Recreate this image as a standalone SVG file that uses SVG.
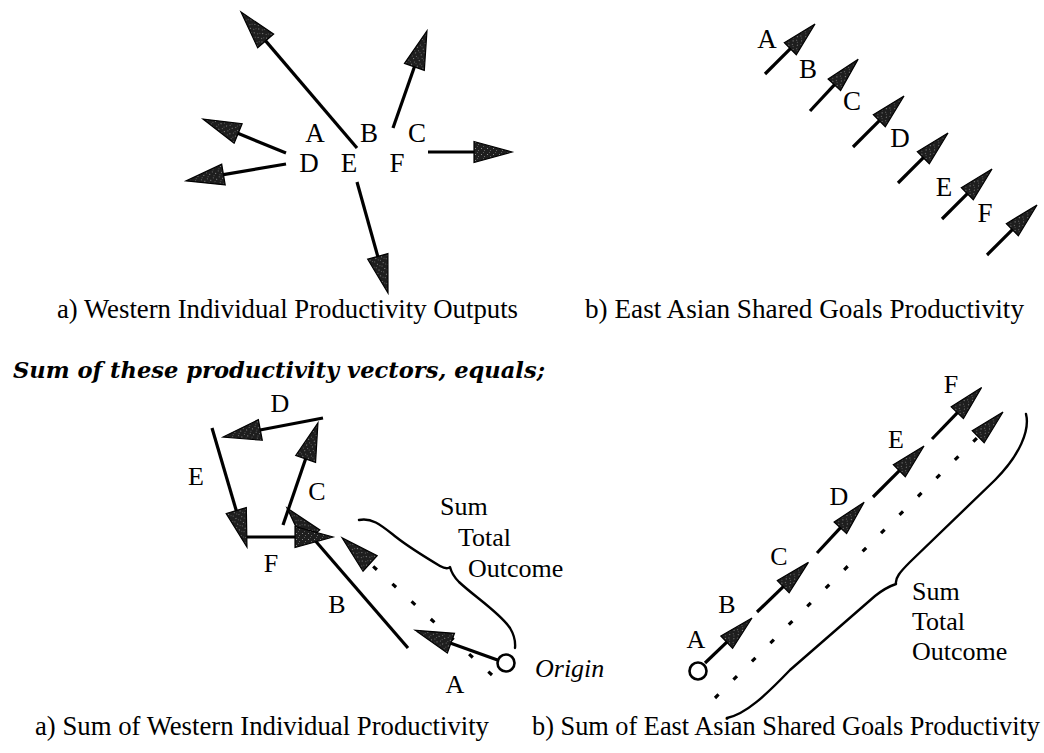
<svg xmlns="http://www.w3.org/2000/svg" width="1044" height="753" viewBox="0 0 1044 753">
<style>
.ln{stroke:#000;stroke-width:3.2;fill:none;stroke-linecap:butt}
.hl{marker-end:url(#head)}
.hs{marker-end:url(#headS)}
.dot{stroke:#000;stroke-width:3.2;fill:none;stroke-dasharray:5 21}
.br{stroke:#000;stroke-width:2.4;fill:none;stroke-linecap:round;stroke-linejoin:round}
.lbl{font-family:"Liberation Serif","Times New Roman",serif;font-size:26px;fill:#000}
.lt{font-size:27px}
.c{text-anchor:middle}
.cap{font-family:"Liberation Serif","Times New Roman",serif;font-size:26.5px;fill:#000}
.hd{font-family:"DejaVu Serif","Liberation Serif",serif;font-size:22px;font-weight:bold;font-style:italic;fill:#000}
.org{font-family:"Liberation Serif","Times New Roman",serif;font-size:26px;font-style:italic;fill:#000}
.circ{fill:#fff;stroke:#000;stroke-width:2.6}
</style>
<defs>
<pattern id="speck" width="6" height="6" patternUnits="userSpaceOnUse">
<rect width="6" height="6" fill="#1e1e1e"/>
<rect x="1" y="2" width="1" height="1" fill="#8a8a8a"/>
<rect x="4" y="4" width="1" height="1" fill="#6a6a6a"/>
<rect x="3" y="0" width="1" height="1" fill="#555"/>
</pattern>
<marker id="head" markerUnits="userSpaceOnUse" orient="auto" viewBox="-2 -12 42 24" markerWidth="42" markerHeight="24" refX="3" refY="0" overflow="visible">
<path d="M0,-10.5 L38,0 L0,10.5 Z" fill="url(#speck)" stroke="#000" stroke-width="1.2"/>
</marker>
<marker id="headS" markerUnits="userSpaceOnUse" orient="auto" viewBox="-2 -10 39 20" markerWidth="39" markerHeight="20" refX="3" refY="0" overflow="visible">
<path d="M0,-8.5 L35,0 L0,8.5 Z" fill="url(#speck)" stroke="#000" stroke-width="1.2"/>
</marker>
</defs>
<rect width="1044" height="753" fill="#fff"/>

<!-- Panel a (top-left) -->
<g id="connectors-top-left">
<line class="ln hl" x1="357" y1="148" x2="263.7" y2="38.6"/>
<line class="ln hl" x1="393" y1="128" x2="415.4" y2="64"/>
<line class="ln hl" x1="286" y1="153" x2="235.4" y2="132.3"/>
<line class="ln hl" x1="286" y1="164" x2="220.5" y2="175.1"/>
<line class="ln hl" x1="428" y1="152" x2="477" y2="152"/>
<line class="ln hl" x1="357" y1="182" x2="378.6" y2="259.3"/>
</g>
<g id="tl-A"><text class="lbl lt c" x="315" y="142">A</text></g>
<g id="tl-B"><text class="lbl lt c" x="369" y="142">B</text></g>
<g id="tl-C"><text class="lbl lt c" x="417" y="142">C</text></g>
<g id="tl-D"><text class="lbl lt c" x="309" y="172">D</text></g>
<g id="tl-E"><text class="lbl lt c" x="349" y="172">E</text></g>
<g id="tl-F"><text class="lbl lt c" x="397" y="172">F</text></g>

<!-- Panel b (top-right) -->
<g id="connectors-top-right">
<line class="ln hs" x1="765" y1="74" x2="792.4" y2="46.6"/>
<line class="ln hs" x1="810" y1="111" x2="836.4" y2="82.6"/>
<line class="ln hs" x1="853" y1="147" x2="881.4" y2="118.6"/>
<line class="ln hs" x1="898" y1="183" x2="925.4" y2="155.6"/>
<line class="ln hs" x1="942" y1="219" x2="969.4" y2="191.6"/>
<line class="ln hs" x1="987" y1="255" x2="1014.4" y2="227.6"/>
</g>
<g id="tr-A"><text class="lbl lt c" x="767" y="48">A</text></g>
<g id="tr-B"><text class="lbl lt c" x="808" y="78">B</text></g>
<g id="tr-C"><text class="lbl lt c" x="852" y="110">C</text></g>
<g id="tr-D"><text class="lbl lt c" x="900" y="147">D</text></g>
<g id="tr-E"><text class="lbl lt c" x="944" y="196">E</text></g>
<g id="tr-F"><text class="lbl lt c" x="985" y="222">F</text></g>

<g id="captions-top">
<text class="cap" x="57" y="318" textLength="461" lengthAdjust="spacingAndGlyphs">a) Western Individual Productivity Outputs</text>
<text class="cap" x="585" y="318" textLength="439" lengthAdjust="spacingAndGlyphs">b) East Asian Shared Goals Productivity</text>
</g>

<g id="heading">
<text class="hd" x="13" y="378" textLength="532" lengthAdjust="spacingAndGlyphs">Sum of these productivity vectors, equals;</text>
</g>

<!-- Panel a (bottom-left) -->
<g id="connectors-bottom-left">
<line class="dot hl" x1="492" y1="675" x2="367.9" y2="561.5"/>
<line class="ln hl" x1="497.5" y1="660" x2="448.1" y2="642.2"/>
<line class="ln hl" x1="408" y1="648" x2="309.9" y2="534.5"/>
<line class="ln hl" x1="283" y1="525" x2="306.6" y2="456.1"/>
<line class="ln hl" x1="323" y1="418" x2="257.4" y2="430.5"/>
<line class="ln hl" x1="212" y1="428" x2="237.1" y2="513.4"/>
<line class="ln hl" x1="247" y1="537" x2="298" y2="537"/>
<path class="br" d="M359,520 C372,517 382,526 396,537 S430,560 440,566 Q447,570 450,567 Q452,575 459,582 C475,597 500,613 510,628 Q516,638 515,648"/>
</g>
<g id="bl-origin"><circle class="circ" cx="506" cy="663" r="8.5"/><text class="org" x="535" y="677">Origin</text></g>
<g id="bl-A"><text class="lbl c" x="455" y="693">A</text></g>
<g id="bl-B"><text class="lbl c" x="337" y="613">B</text></g>
<g id="bl-C"><text class="lbl c" x="317" y="500">C</text></g>
<g id="bl-D"><text class="lbl c" x="280" y="412">D</text></g>
<g id="bl-E"><text class="lbl c" x="196" y="485">E</text></g>
<g id="bl-F"><text class="lbl c" x="271" y="572">F</text></g>
<g id="bl-sum"><text class="lbl" x="440" y="515">Sum</text><text class="lbl" x="458" y="546">Total</text><text class="lbl" x="468" y="577">Outcome</text></g>

<!-- Panel b (bottom-right) -->
<g id="connectors-bottom-right">
<line class="dot hs" x1="715" y1="698" x2="980.3" y2="434.6"/>
<line class="ln hs" x1="705" y1="663" x2="728.9" y2="640.1"/>
<line class="ln hs" x1="757" y1="612" x2="785.4" y2="584.6"/>
<line class="ln hs" x1="817" y1="553" x2="842.4" y2="525.6"/>
<line class="ln hs" x1="873" y1="497" x2="901.4" y2="468.6"/>
<line class="ln hs" x1="932" y1="439" x2="959.4" y2="410.6"/>
<path class="br" d="M1026,414 C1030,430 1020,455 995,480 L910,562 C900,572 895,578 896,584 C890,586 885,588 875,596 L790,670 C766,695 746,714 727,718"/>
</g>
<g id="br-origin"><circle class="circ" cx="698" cy="671" r="8.5"/></g>
<g id="br-A"><text class="lbl c" x="696" y="648">A</text></g>
<g id="br-B"><text class="lbl c" x="727" y="613">B</text></g>
<g id="br-C"><text class="lbl c" x="779" y="565">C</text></g>
<g id="br-D"><text class="lbl c" x="839" y="505">D</text></g>
<g id="br-E"><text class="lbl c" x="896" y="448">E</text></g>
<g id="br-F"><text class="lbl c" x="951" y="393">F</text></g>
<g id="br-sum"><text class="lbl" x="912" y="600">Sum</text><text class="lbl" x="912" y="630">Total</text><text class="lbl" x="912" y="660">Outcome</text></g>

<g id="captions-bottom">
<text class="cap" x="35" y="735" textLength="454" lengthAdjust="spacingAndGlyphs">a) Sum of Western Individual Productivity</text>
<text class="cap" x="532" y="735" textLength="508" lengthAdjust="spacingAndGlyphs">b) Sum of East Asian Shared Goals Productivity</text>
</g>
</svg>
